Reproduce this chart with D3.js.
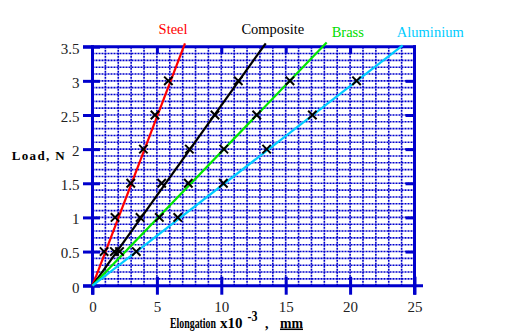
<!DOCTYPE html>
<html><head><meta charset="utf-8">
<script src="https://cdn.jsdelivr.net/npm/d3@7"></script>
<style>body{margin:0;background:#fff;} svg{display:block} text{font-family:'Liberation Serif','Times New Roman',serif;}</style>
</head><body><svg id="c" width="526" height="336"></svg>
<script>
// ---- data ----
const loads = [0.5, 1, 1.5, 2, 2.5, 3];
const steel = [0.9, 1.75, 2.97, 3.95, 4.85, 5.89];
const composite = [1.7, 3.69, 5.37, 7.52, 9.51, 11.32];
const brass = [2.1, 5.19, 7.44, 10.2, 12.75, 15.33];
const aluminium = [3.4, 6.62, 10.16, 13.52, 17.07, 20.5];
const seriesNames = ["Steel", "Composite", "Brass", "Aluminium"];
const fitEndElong = [7.18, 13.45, 18.18, 24.08];
const fitEndLoad = [3.55, 3.55, 3.56, 3.52];
const xTicks = [0, 5, 10, 15, 20, 25];
const yTicks = [0, 0.5, 1, 1.5, 2, 2.5, 3, 3.5];
const yTickLabels = ["0", "0.5", "1", "1.5", "2", "2.5", "3", "3.5"];

// ---- styles ----
const colors = ["#ff0000", "#000000", "#00e600", "#00ccff"];
const labelColors = ["#ff0000", "#000000", "#00dd00", "#00ccff"];
const blue = "#0000cc";
const serif = "'Liberation Serif', 'Times New Roman', serif";

const svg = d3.select("#c");
const x = d3.scaleLinear().domain([0, 25]).range([92.5, 414.5]);
const y = d3.scaleLinear().domain([0, 3.5]).range([285.7, 46.7]);

// grid
const grid = svg.append("g").attr("stroke", blue).attr("fill", "none");
grid.selectAll("line.v").data(d3.range(1, 25)).join("line").attr("class", "v")
  .attr("x1", d => x(d)).attr("x2", d => x(d)).attr("y1", y(3.5)).attr("y2", y(0))
  .attr("stroke-width", 1.6).attr("stroke-dasharray", "2,1");
grid.selectAll("line.h").data(d3.range(1, 35).map(i => i / 10)).join("line").attr("class", "h")
  .attr("y1", d => y(d)).attr("y2", d => y(d)).attr("x1", x(0)).attr("x2", x(25))
  .attr("stroke-width", 1.6).attr("stroke-dasharray", "2,1");

// axes
function styleAxis(g) {
  g.attr("font-family", serif);
  g.select(".domain").remove();
  g.selectAll(".tick line").attr("stroke", blue).attr("stroke-width", 3);
  g.selectAll(".tick text").attr("fill", "#222").attr("font-family", serif).attr("font-size", 15);
}
const gl = svg.append("g").attr("transform", `translate(${x(0)},0)`)
  .call(d3.axisLeft(y).tickValues(yTicks).tickSize(9.5).tickPadding(3.5).tickFormat((d, i) => yTickLabels[i]));
styleAxis(gl);
gl.selectAll(".tick line").attr("x1", 7.5);
gl.selectAll(".tick text").attr("dy", "0.42em");

const gb = svg.append("g").attr("transform", `translate(0,${y(0)})`)
  .call(d3.axisBottom(x).tickValues(xTicks).tickSize(9).tickPadding(7).tickFormat(d3.format("d")));
styleAxis(gb);
gb.selectAll(".tick line").attr("y1", -9);

const gr = svg.append("g").attr("transform", `translate(${x(25)},0)`)
  .call(d3.axisLeft(y).tickValues(yTicks.slice(1, -1)).tickSize(9).tickFormat(""));
styleAxis(gr);

const gt = svg.append("g").attr("transform", `translate(0,${y(3.5)})`)
  .call(d3.axisBottom(x).tickValues(xTicks.slice(1, -1)).tickSize(7).tickFormat(""));
styleAxis(gt);

const frame = svg.append("g").attr("stroke", blue).attr("stroke-width", 3);
frame.append("line").attr("x1", x(0)).attr("x2", x(0)).attr("y1", y(3.5) - 1.5).attr("y2", y(0) + 9);
frame.append("line").attr("x1", x(25)).attr("x2", x(25)).attr("y1", y(3.5) - 1.5).attr("y2", y(0) + 9);
frame.append("line").attr("x1", x(0) - 9.5).attr("x2", x(25) + 8.5).attr("y1", y(0)).attr("y2", y(0));
frame.append("line").attr("x1", x(0) - 9.5).attr("x2", x(25) + 1.5).attr("y1", y(3.5)).attr("y2", y(3.5));

// fitted lines
const line = d3.line().x(d => x(d[0])).y(d => y(d[1]));
svg.append("g").selectAll("path").data(seriesNames).join("path")
  .attr("d", (d, i) => line([[0, 0], [fitEndElong[i], fitEndLoad[i]]]))
  .attr("fill", "none").attr("stroke", (d, i) => colors[i]).attr("stroke-width", 2.2);

// markers
const allSeries = [steel, composite, brass, aluminium];
const pts = [];
allSeries.forEach(s => s.forEach((e, j) => pts.push([e, loads[j]])));
const sym = d3.symbol().type(d3.symbolX).size(48);
svg.append("g").selectAll("path").data(pts).join("path")
  .attr("transform", d => `translate(${x(d[0])},${y(d[1])})`)
  .attr("d", sym).attr("fill", "none").attr("stroke", "#000").attr("stroke-width", 2);

// series labels
const labelPos = [[5.13, 3.685], [11.56, 3.685], [18.57, 3.64], [23.63, 3.64]];
svg.append("g").selectAll("text").data(seriesNames).join("text")
  .attr("x", (d, i) => x(labelPos[i][0])).attr("y", (d, i) => y(labelPos[i][1]))
  .attr("fill", (d, i) => labelColors[i]).attr("font-family", serif).attr("font-size", 14.5)
  .text(d => d);

// axis titles
const tf = svg.append("g").attr("font-family", serif).attr("font-weight", "bold").attr("font-size", 15).attr("fill", "#000");
tf.append("text").attr("x", 11.7).attr("y", 160).attr("font-size", 13).attr("textLength", 53).attr("lengthAdjust", "spacing").text("Load, N");
function fitPiece(txt, x0, y0, w, extra) {
  const t = tf.append("text").text(txt);
  if (extra) extra(t);
  const nat = t.node().getComputedTextLength();
  t.attr("transform", `translate(${x0},${y0}) scale(${w / nat},1)`);
  return t;
}
fitPiece("Elongation", 170, 327.5, 46);
fitPiece("x10", 220, 327.5, 22.5);
fitPiece("-3", 247.5, 320.5, 10);
fitPiece(",", 265, 327.5, 3.5);
fitPiece("mm", 280, 327.5, 23, t => t.attr("text-decoration", "underline"));
</script></body></html>
